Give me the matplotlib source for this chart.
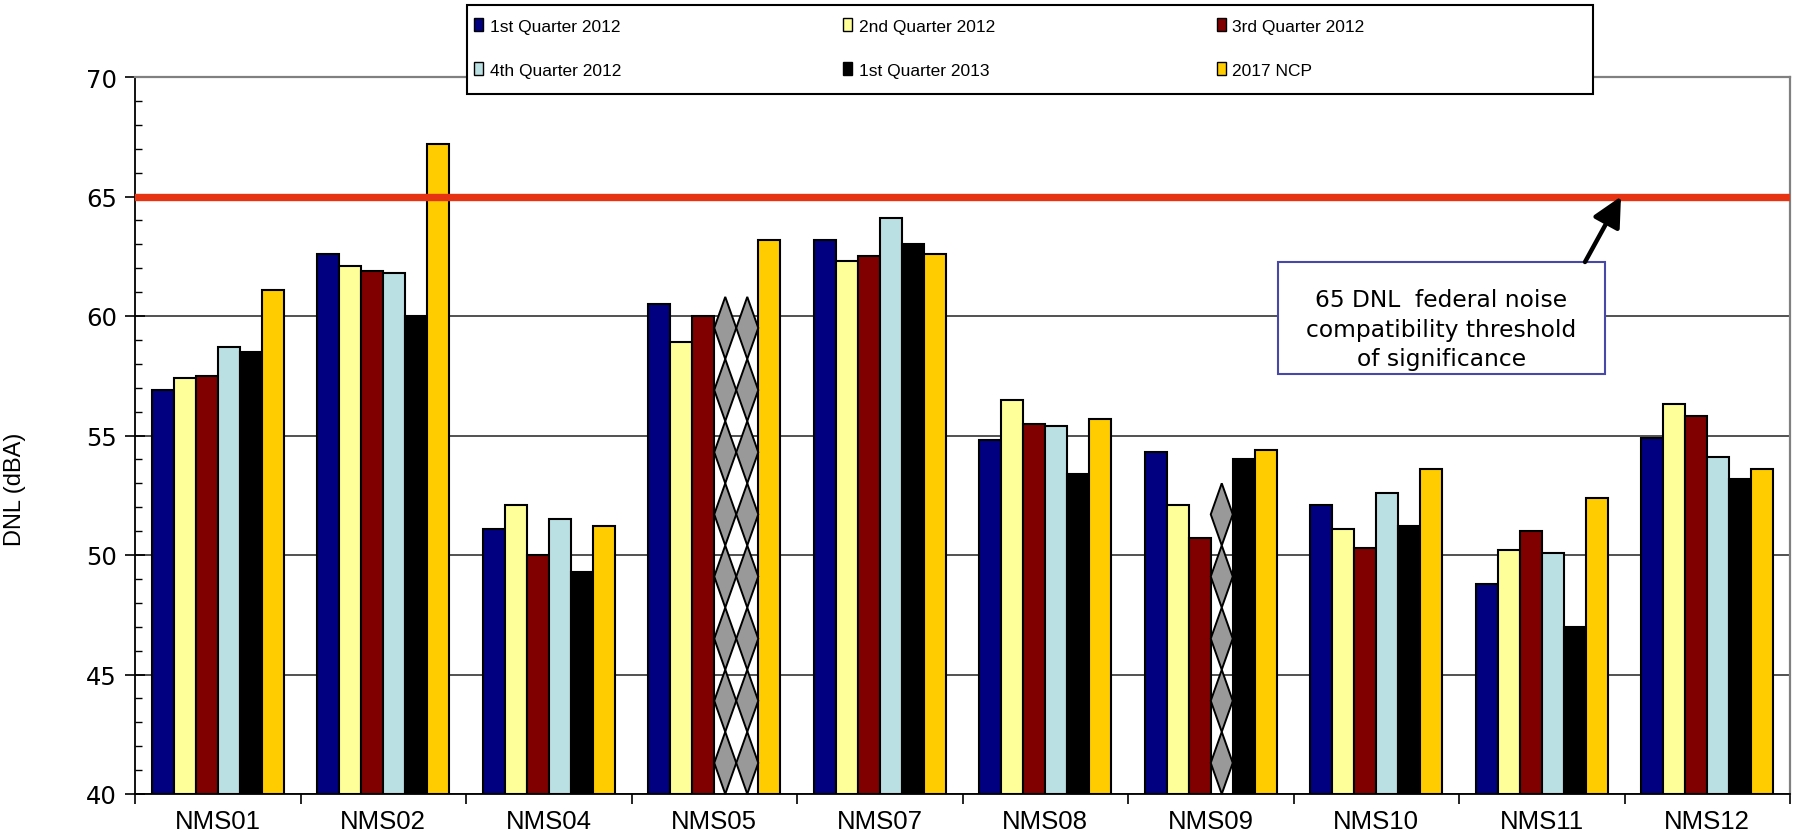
import numpy as np
import matplotlib
matplotlib.use("Agg")
import matplotlib.pyplot as plt
from matplotlib.patches import Patch, Rectangle, Polygon
from matplotlib.ticker import MultipleLocator, FixedLocator, NullFormatter

# ---------------- data ----------------
categories = ["NMS01", "NMS02", "NMS04", "NMS05", "NMS07",
              "NMS08", "NMS09", "NMS10", "NMS11", "NMS12"]
series_names = ["1st Quarter 2012", "2nd Quarter 2012", "3rd Quarter 2012",
                "4th Quarter 2012", "1st Quarter 2013", "2017 NCP"]
q1_2012 = [56.9, 62.6, 51.1, 60.5, 63.2, 54.8, 54.3, 52.1, 48.8, 54.9]
q2_2012 = [57.4, 62.1, 52.1, 58.9, 62.3, 56.5, 52.1, 51.1, 50.2, 56.3]
q3_2012 = [57.5, 61.9, 50.0, 60.0, 62.5, 55.5, 50.7, 50.3, 51.0, 55.8]
q4_2012 = [58.7, 61.8, 51.5, np.nan, 64.1, 55.4, np.nan, 52.6, 50.1, 54.1]
q1_2013 = [58.5, 60.0, 49.3, np.nan, 63.0, 53.4, 54.0, 51.2, 47.0, 53.2]
ncp_2017 = [61.1, 67.2, 51.2, 63.2, 62.6, 55.7, 54.4, 53.6, 52.4, 53.6]
series_values = [q1_2012, q2_2012, q3_2012, q4_2012, q1_2013, ncp_2017]
colors = ["#000080", "#FFFF99", "#800000", "#BBE0E3", "#000000", "#FFCC00"]

# missing-data markers: (category, series index, number of stacked diamonds)
missing_markers = [("NMS05", 3, 8), ("NMS05", 4, 8), ("NMS09", 3, 5)]
diamond_height = 2.6

threshold = 65
y_min, y_max = 40, 70
annotation_text = "65 DNL  federal noise\ncompatibility threshold\nof significance"

# ---------------- figure ----------------
W, H = 1800, 837
AX_L, AX_R, AX_T, AX_B = 135, 1790, 78, 795
fig = plt.figure(figsize=(W / 100, H / 100), dpi=100)
ax = fig.add_axes([AX_L / W, 1 - AX_B / H, (AX_R - AX_L) / W, (AX_B - AX_T) / H])


def afx(px):
    return (px - AX_L) / (AX_R - AX_L)


def afy(py):
    return (AX_B - py) / (AX_B - AX_T)


x = np.arange(len(categories))
n = len(series_names)
bw = 0.133
offsets = (np.arange(n) - (n - 1) / 2) * bw

ax.set_axisbelow(True)
for i, (name, vals, c) in enumerate(zip(series_names, series_values, colors)):
    v = np.array(vals, dtype=float)
    m = ~np.isnan(v)
    ax.bar(x[m] + offsets[i], v[m] - y_min, bottom=y_min, width=bw, color=c,
           edgecolor="black", linewidth=1.5, zorder=2)

# diamond stacks for missing data
for cat, si, cnt in missing_markers:
    xc = categories.index(cat) + offsets[si]
    for k in range(cnt):
        yc = y_min + diamond_height * (k + 0.5)
        pts = [(xc, yc - diamond_height / 2), (xc + bw / 2, yc),
               (xc, yc + diamond_height / 2), (xc - bw / 2, yc)]
        ax.add_patch(Polygon(pts, closed=True, facecolor="#999999",
                             edgecolor="black", linewidth=1.4, zorder=3,
                             clip_on=False))

# threshold line
ax.axhline(threshold, color="#E63312", linewidth=5.3, zorder=4)

ax.set_xlim(-0.5, len(categories) - 0.5)
ax.set_ylim(y_min, y_max)

# gridlines
ax.yaxis.set_major_locator(MultipleLocator(5))
ax.yaxis.set_minor_locator(MultipleLocator(1))
ax.grid(axis="y", which="major", color="#333333", linewidth=1.2, zorder=0)

# ticks
ax.tick_params(axis="y", which="major", direction="inout", length=14,
               width=1.2, pad=6, labelsize=17.5)
ax.tick_params(axis="y", which="minor", direction="in", length=5, width=1.0)
for lab in ax.get_yticklabels():
    lab.set_fontfamily("DejaVu Sans")

ax.xaxis.set_major_locator(FixedLocator(np.arange(len(categories) + 1) - 0.5))
ax.xaxis.set_major_formatter(NullFormatter())
ax.xaxis.set_minor_locator(FixedLocator(x))
ax.set_xticklabels(categories, minor=True, fontsize=18.5,
                   fontfamily="Liberation Sans")
ax.tick_params(axis="x", which="major", direction="out", length=7, width=1.2)
ax.tick_params(axis="x", which="minor", length=0, pad=11)

ax.set_ylabel("DNL (dBA)", fontsize=17, fontfamily="Liberation Sans")
ax.yaxis.set_label_coords(afx(26), afy(489))

for s in ["left", "bottom"]:
    ax.spines[s].set_color("black")
    ax.spines[s].set_linewidth(1.3)
for s in ["top", "right"]:
    ax.spines[s].set_color("#808080")
    ax.spines[s].set_linewidth(1.6)

# annotation box and arrow
bx0, bx1 = afx(1278), afx(1605)
by1, by0 = afy(263), afy(375)
ax.add_patch(Rectangle((bx0, by0), bx1 - bx0, by1 - by0, transform=ax.transAxes,
                       facecolor="white", edgecolor="#4848A8", linewidth=1.5,
                       zorder=5))
ax.text((bx0 + bx1) / 2, afy(330), annotation_text,
        transform=ax.transAxes,
        ha="center", va="center", fontsize=16.8, fontfamily="DejaVu Sans",
        linespacing=1.34, zorder=6)
ax.annotate("", xy=(afx(1621), threshold),
            xycoords=("axes fraction", "data"),
            xytext=(afx(1585), by1),
            textcoords="axes fraction",
            arrowprops=dict(arrowstyle="-|>,head_length=0.9,head_width=0.45",
                            color="black", lw=3.2, shrinkA=0, shrinkB=0,
                            mutation_scale=20),
            zorder=6)

# legend frame + legend
fig.add_artist(Rectangle((467 / W, 1 - 95 / H), (1593 - 467) / W, (95 - 6) / H,
                         transform=fig.transFigure, facecolor="white",
                         edgecolor="black", linewidth=1.5, zorder=3))
handles = [Patch(facecolor=c, edgecolor="black", linewidth=1.0) for c in colors]
order = [0, 3, 1, 4, 2, 5]
leg_size = 12.5
fs_px = leg_size * 100 / 72
leg = fig.legend([handles[i] for i in order], [series_names[i] for i in order],
                 ncol=3, loc="upper left", bbox_to_anchor=(474 / W, 1 - 19 / H),
                 bbox_transform=fig.transFigure, frameon=False,
                 prop={"family": "Liberation Sans", "size": leg_size},
                 handlelength=0.5, handleheight=0.8, handletextpad=0.4,
                 columnspacing=222 / fs_px,
                 labelspacing=23 / fs_px + 0.3, borderpad=0,
                 borderaxespad=0)
leg.set_zorder(5)

fig.savefig("out.png", dpi=100)
